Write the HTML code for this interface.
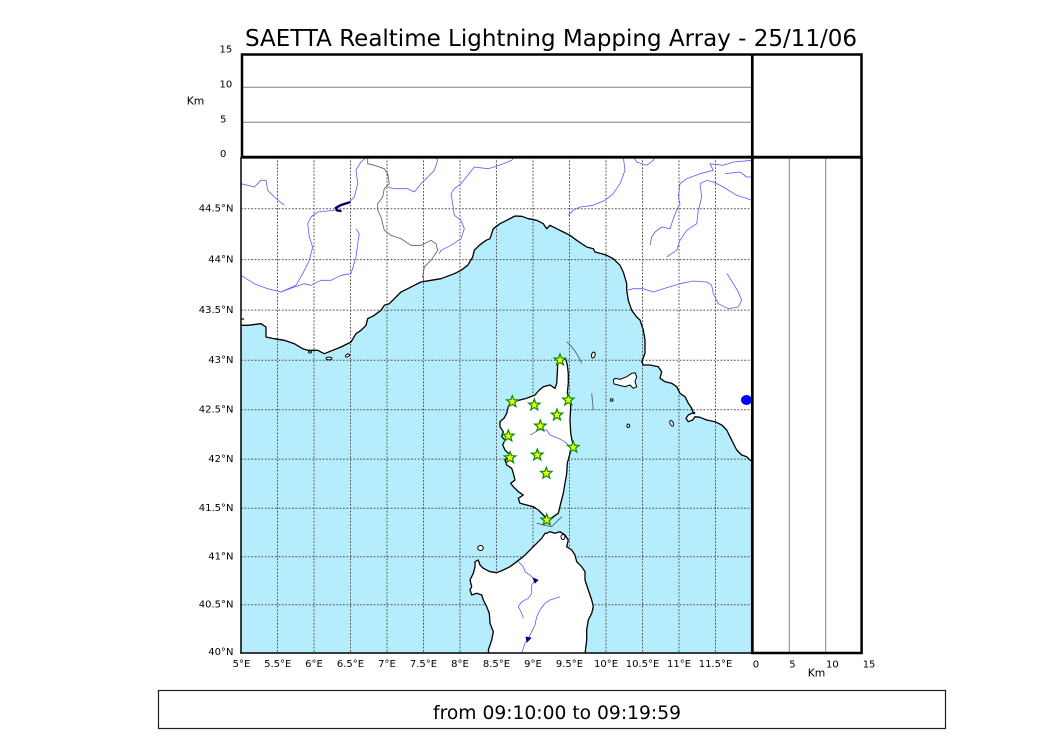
<!DOCTYPE html>
<html>
<head>
<meta charset="utf-8">
<style>
html,body{margin:0;padding:0;background:#fff;}
svg{display:block;}
text{font-family:"DejaVu Sans","Liberation Sans",sans-serif;fill:#000;}
</style>
</head>
<body>
<svg width="1050" height="750" viewBox="0 0 1050 750" xmlns="http://www.w3.org/2000/svg">
<defs>
  <clipPath id="mapclip"><rect x="241" y="157" width="511" height="496"/></clipPath>
  <path id="star" d="M0,-6 L1.47,-2.02 L5.71,-1.85 L2.38,0.77 L3.53,4.85 L0,2.5 L-3.53,4.85 L-2.38,0.77 L-5.71,-1.85 L-1.47,-2.02 Z"/>
</defs>

<!-- Title -->
<text x="245" y="46" font-size="23" textLength="612" lengthAdjust="spacingAndGlyphs">SAETTA Realtime Lightning Mapping Array - 25/11/06</text>

<!-- MAP -->
<g clip-path="url(#mapclip)">
  <rect x="241" y="157" width="511" height="496" fill="#fff"/>
  <!-- sea -->
  <path fill="#b5edfc" stroke="none" d="M241,325.3 L247.7,325.3 L261,323.7 L266,327 L266,337 L274.3,338.7 L284.3,340.3 L294.3,343.7 L302.7,348.7 L307.7,350.3 L317.7,350.3 L324.3,353.7 L332.7,350.3 L341,347 L351,342 L356,333.7 L361,330.3 L366,325.3 L367.7,318.7 L374.3,315.3 L381,310.3 L384.3,305.3 L389.3,303.7 L396,297 L401,292 L407.7,288.7 L414.3,285.3 L421,282 L431,280.3 L441,278.7 L454.3,273.7 L461,270.3 L467.7,265.3 L472.7,257 L474.3,250.3 L479.3,245.3 L486,240.3 L490,238.7 L493.3,228.7 L500,223.7 L506.7,220.3 L515,216 L521.7,216.3 L528.3,218.7 L536.7,220.3 L543.3,223.7 L546.7,228.7 L550,225.3 L556.7,228.7 L563.3,232 L570,235.3 L576.7,240.3 L586.7,247 L593.3,248.7 L595,252 L601.7,253.7 L606.7,255.3 L613.3,258.7 L620,265.3 L623.3,272 L626.7,283.7 L626.7,290.3 L628.3,300.3 L631.7,310.3 L636.7,317 L640,320 L643.3,330 L645,340 L645,353.3 L641.7,361.7 L643.3,365 L650,365 L658.3,366.7 L661.7,371.7 L660,378.3 L665,381.7 L671.7,383.3 L676.7,386.7 L680,393.3 L685,396.7 L688.3,403.3 L691.7,408.3 L693.3,412.7 L688.3,415 L686,418.3 L688.3,421.7 L692.7,420 L695,416.7 L700,417.3 L706.7,420 L715,421.7 L721.7,425 L726.7,430 L730,436.7 L733.3,443.3 L736.7,450 L741.7,455 L746.7,456.7 L750,460 L753,462 L753,654 L240,654 Z"/>

  <!-- grid -->
  <g stroke="#555" stroke-width="1" stroke-dasharray="1.8,1.6" fill="none">
    <line x1="277.5" y1="157" x2="277.5" y2="653"/>
    <line x1="314" y1="157" x2="314" y2="653"/>
    <line x1="350.5" y1="157" x2="350.5" y2="653"/>
    <line x1="387" y1="157" x2="387" y2="653"/>
    <line x1="423.5" y1="157" x2="423.5" y2="653"/>
    <line x1="460" y1="157" x2="460" y2="653"/>
    <line x1="496.5" y1="157" x2="496.5" y2="653"/>
    <line x1="533" y1="157" x2="533" y2="653"/>
    <line x1="569.5" y1="157" x2="569.5" y2="653"/>
    <line x1="606" y1="157" x2="606" y2="653"/>
    <line x1="642.5" y1="157" x2="642.5" y2="653"/>
    <line x1="679" y1="157" x2="679" y2="653"/>
    <line x1="715.5" y1="157" x2="715.5" y2="653"/>
    <line x1="241" y1="604.8" x2="752" y2="604.8"/>
    <line x1="241" y1="556.7" x2="752" y2="556.7"/>
    <line x1="241" y1="508.2" x2="752" y2="508.2"/>
    <line x1="241" y1="459.1" x2="752" y2="459.1"/>
    <line x1="241" y1="409.8" x2="752" y2="409.8"/>
    <line x1="241" y1="360.3" x2="752" y2="360.3"/>
    <line x1="241" y1="310.1" x2="752" y2="310.1"/>
    <line x1="241" y1="259.6" x2="752" y2="259.6"/>
    <line x1="241" y1="208.8" x2="752" y2="208.8"/>
  </g>

  <!-- mainland coastline -->
  <path fill="none" stroke="#000" stroke-width="1.3" stroke-linejoin="round" d="M241,325.3 L247.7,325.3 L261,323.7 L266,327 L266,337 L274.3,338.7 L284.3,340.3 L294.3,343.7 L302.7,348.7 L307.7,350.3 L317.7,350.3 L324.3,353.7 L332.7,350.3 L341,347 L351,342 L356,333.7 L361,330.3 L366,325.3 L367.7,318.7 L374.3,315.3 L381,310.3 L384.3,305.3 L389.3,303.7 L396,297 L401,292 L407.7,288.7 L414.3,285.3 L421,282 L431,280.3 L441,278.7 L454.3,273.7 L461,270.3 L467.7,265.3 L472.7,257 L474.3,250.3 L479.3,245.3 L486,240.3 L490,238.7 L493.3,228.7 L500,223.7 L506.7,220.3 L515,216 L521.7,216.3 L528.3,218.7 L536.7,220.3 L543.3,223.7 L546.7,228.7 L550,225.3 L556.7,228.7 L563.3,232 L570,235.3 L576.7,240.3 L586.7,247 L593.3,248.7 L595,252 L601.7,253.7 L606.7,255.3 L613.3,258.7 L620,265.3 L623.3,272 L626.7,283.7 L626.7,290.3 L628.3,300.3 L631.7,310.3 L636.7,317 L640,320 L643.3,330 L645,340 L645,353.3 L641.7,361.7 L643.3,365 L650,365 L658.3,366.7 L661.7,371.7 L660,378.3 L665,381.7 L671.7,383.3 L676.7,386.7 L680,393.3 L685,396.7 L688.3,403.3 L691.7,408.3 L693.3,412.7 L688.3,415 L686,418.3 L688.3,421.7 L692.7,420 L695,416.7 L700,417.3 L706.7,420 L715,421.7 L721.7,425 L726.7,430 L730,436.7 L733.3,443.3 L736.7,450 L741.7,455 L746.7,456.7 L750,460 L753,462"/>
  <line x1="241" y1="319" x2="244" y2="319" stroke="#000" stroke-width="1.2"/>

  <!-- small islands near Provence -->
  <g fill="#fff" stroke="#000" stroke-width="1">
    <ellipse cx="329" cy="358.5" rx="3" ry="1.4"/>
    <ellipse cx="347.5" cy="355.5" rx="2.2" ry="1.3" transform="rotate(-30 347.5 355.5)"/>
    <ellipse cx="310" cy="352" rx="1.5" ry="1"/>
  </g>

  <!-- border France-Italy -->
  <path fill="none" stroke="#555" stroke-width="0.8" d="M367.7,157 L367.7,163.7 L374.3,165.3 L384.3,168.7 L387.7,173.7 L389.3,183.7 L384.3,188.7 L382.7,197 L377.7,203.7 L377.7,210.3 L381,217 L384.3,230.3 L391,235.3 L401,238.7 L411,245.3 L421,245.3 L431,240.3 L436,243.7 L437.7,250.3 L431,260.3 L424.3,267 L422.7,277 L424.3,282"/>

  <!-- rivers -->
  <g fill="none" stroke="#5a5aff" stroke-width="0.8" stroke-linejoin="round">
    <path d="M241,183.7 L254.3,187 L261,180.3 L266,180.3 L267.7,190.3 L274.3,197 L284.3,205.3"/>
    <path d="M367,157 L361,162 L356,170 L357.7,183.7 L354.3,197 L347.7,203.7"/>
    <path d="M337,210 L317.7,212 L311,217 L307.7,223.7 L309.3,237 L312.7,247 L309.3,260.3 L302.7,273.7 L296,285.3 L281,292"/>
    <path d="M241,275.3 L254.3,283.7 L267.7,288.7 L281,292 L294.3,287 L304.3,283.7 L311,285.3 L321,280.3 L331,280.3 L341,275.3 L351,273.7 L356,257 L357.7,243.7 L359.3,233.7 L356,228.7"/>
    <path d="M387.7,187 L394.3,188.7 L407.7,188.7 L414.3,192 L421,183.7 L427.7,177 L434.3,170.3 L437.7,160.3 L436,157"/>
    <path d="M439.3,253.7 L441,250.3 L451,245.3 L461,238.7 L464.3,228.7 L461,220.3 L454.3,215.3 L452.7,203.7 L451,193.7 L454.3,188.7 L461,183.7 L467.7,175.3 L474.3,167 L487.7,168.7 L494.3,167 L503.3,163.7 L511.7,160.3 L514,157"/>
    <path d="M623.3,157 L625,170.3 L620,183.7 L613.3,193.7 L605,200.3 L593.3,205.3 L580,207 L573.3,210.3 L568.3,215.3"/>
    <path d="M633.3,157 L636.7,162 L646.7,165.3 L653.3,160.3 L655,157"/>
    <path d="M752,160.3 L733.3,162 L723.3,165.3 L710,163.7 L713.3,170.3 L700,173.7 L686.7,178.7 L680,183.7 L678.3,197 L680,203.7 L676.7,210.3 L673.3,218.7 L670,228.7 L661.7,227 L655,232 L651.7,237 L650,245.3"/>
    <path d="M706.7,180.3 L713.3,182 L723.3,187 L736.7,195.3 L752,200.3"/>
    <path d="M706.7,180.3 L700,183.7 L701.7,197 L698.3,210.3 L696.7,223.7 L686.7,230.3 L680,240.3 L676.7,250.3 L666.7,257"/>
    <path d="M725,173.7 L740,172 L746.7,177 L752,177"/>
    <path d="M626.7,290.3 L633.3,288.7 L643.3,288.7 L653.3,292 L663.3,288.7 L680,283.7 L693.3,281 L706.7,282 L711.7,285.3 L713.3,293.7 L718.3,303.7 L728.3,308.7 L738.3,307 L741.7,300.3 L738.3,292 L733.3,283.7 L728.3,275.3 L726.7,273.7"/>
  </g>
  <!-- Lake Geneva -->
  <path d="M349,202.5 L341,205 L336,207.8 L337,210.3 L340.5,211" fill="none" stroke="#000060" stroke-width="2.4" stroke-linecap="round"/>

  <!-- Corsica -->
  <path fill="#fff" stroke="#000" stroke-width="1.3" stroke-linejoin="round" d="M558.3,360 L561.7,358.3 L566,360 L567.3,365 L568.3,373.3 L568.3,383.3 L567.3,393.3 L570,400 L570.7,406.7 L570,420 L570.7,433.3 L573.3,446.7 L570,453.3 L567.3,463.3 L566.7,473.3 L565,483.3 L563.3,493.3 L560.7,503.3 L558.3,513.3 L553.3,516.7 L548.3,520 L543.3,515 L538.3,510 L533.3,506.7 L526.7,505 L520,503.3 L518.3,498.3 L523.3,495 L518.3,491.7 L513.3,486.7 L510.7,483.3 L515,480 L513.3,473.3 L511.7,468.3 L506.7,465 L505,460 L510,455 L505,450 L502.7,445 L505,440 L501.7,436.7 L503.3,431.7 L500,426.7 L500,421.7 L504,418.3 L506.7,413.3 L508.3,406.7 L510,403.3 L513.3,401.7 L520,400 L526.7,398.3 L535,395 L539.3,390 L543.3,386.7 L550,385 L555,388.3 L556.7,383.3 L557.3,373.3 L557.7,365 Z"/>
  <path d="M530,435 L533.3,433.3 L538.3,430 L546.7,430 L550,435 L558.3,438.3 L565,441.7 L570,446.7" fill="none" stroke="#5a5aff" stroke-width="0.8"/>

  <!-- Sardinia -->
  <path fill="#fff" stroke="#000" stroke-width="1.3" stroke-linejoin="round" d="M489,654 L488.3,650 L491.7,640 L493.3,631.7 L490,623.3 L489.3,613.3 L486.7,606.7 L483.3,600 L481.7,595 L476.7,593.3 L471.7,595 L470,590 L471.7,586.7 L470,580 L473.3,573.3 L475,566.7 L475,561.7 L478.3,560 L480,565 L483.3,568.3 L490,571.7 L496.7,572.7 L503.3,570 L510,566.7 L516.7,561.7 L523.3,556.7 L530,550 L536.7,543.3 L541.7,538.3 L545,533.3 L546.7,533.3 L550,531.7 L555,533.3 L560,531.7 L565,535 L568.3,540 L566.7,546.7 L571.7,550 L575,555 L576.7,561.7 L581.7,566.7 L585,571.7 L585,580 L588.3,590 L591.7,600 L593.3,606.7 L591.7,613.3 L588.3,620 L586.7,630 L586.7,640 L585,654 Z"/>
  <g fill="none" stroke="#5a5aff" stroke-width="0.8">
    <path d="M518.3,561.7 L523.3,566.7 L525,571.7 L530,575 L535,580 L531.7,585 L531.7,593.3 L528.3,598.3 L521.7,601.7 L518.3,606.7 L521.7,613.3 L523.3,618.3"/>
    <path d="M560,596.7 L550,600 L545,603.3 L540,610 L536.7,616.7 L535,625 L531.7,631.7 L528.3,638.3 L525,643.3 L521.7,653"/>
  </g>
  <path d="M533,578 L538,580 L535,583 Z" fill="#000080" stroke="#000080" stroke-width="0.8"/>
  <path d="M526,637 L531,638 L527,642 Z" fill="#000080" stroke="#000080" stroke-width="0.8"/>

  <!-- small islands -->
  <g fill="#fff" stroke="#000" stroke-width="1">
    <ellipse cx="480.5" cy="548" rx="2.8" ry="2.5"/>
    <path d="M613.3,380 L615,378.3 L620,379.3 L626.7,376.7 L631.7,373.3 L635,372.7 L636.7,376.7 L635,381.7 L636.7,386.7 L633.3,388.3 L630,385 L625,386.7 L618.3,385 L614,384 Z"/>
    <ellipse cx="611.7" cy="400" rx="1.4" ry="1.2"/>
    <ellipse cx="628.3" cy="425.8" rx="1.4" ry="1.8"/>
    <ellipse cx="671.7" cy="423.3" rx="1.6" ry="3" transform="rotate(-25 671.7 423.3)"/>
    <ellipse cx="593.3" cy="355" rx="1.8" ry="3" transform="rotate(15 593.3 355)"/>
    <ellipse cx="563" cy="537" rx="2" ry="2.5"/>
  </g>
  <!-- maritime boundaries -->
  <g fill="none" stroke="#555" stroke-width="0.8">
    <path d="M566.7,341.7 Q576,350 581.7,363.3"/>
    <path d="M591.7,393.3 L593.3,410"/>
    <path d="M536.7,523.3 L551.7,526.7 L561.7,516.7"/>
  </g>
  <!-- lakes -->
  <ellipse cx="746.5" cy="400" rx="5.5" ry="5" fill="#0000ff"/>
  <circle cx="694" cy="413" r="1.3" fill="#000080"/>

  <!-- stars -->
  <g fill="#ffff00" stroke="#009000" stroke-width="1.2" stroke-linejoin="miter">
    <use href="#star" x="560" y="360"/>
    <use href="#star" x="512.3" y="401.7"/>
    <use href="#star" x="534.3" y="405"/>
    <use href="#star" x="568.3" y="400"/>
    <use href="#star" x="557" y="415"/>
    <use href="#star" x="540.3" y="426"/>
    <use href="#star" x="508.3" y="436"/>
    <use href="#star" x="573.3" y="447.3"/>
    <use href="#star" x="537.3" y="455"/>
    <use href="#star" x="510" y="457.7"/>
    <use href="#star" x="546.3" y="473.3"/>
    <use href="#star" x="546.7" y="520"/>
  </g>
</g>

<!-- map frame left/bottom -->
<line x1="241" y1="157" x2="241" y2="653.7" stroke="#000" stroke-width="1.5"/>
<line x1="240.3" y1="653" x2="752" y2="653" stroke="#000" stroke-width="1.5"/>

<!-- top panel grid -->
<line x1="241" y1="87.3" x2="752" y2="87.3" stroke="#808080" stroke-width="1"/>
<line x1="241" y1="122.3" x2="752" y2="122.3" stroke="#808080" stroke-width="1"/>
<!-- right panel grid -->
<line x1="789.3" y1="157" x2="789.3" y2="653" stroke="#808080" stroke-width="1"/>
<line x1="825.7" y1="157" x2="825.7" y2="653" stroke="#808080" stroke-width="1"/>

<!-- frames -->
<rect x="242" y="54.5" width="619.5" height="102.5" fill="none" stroke="#000" stroke-width="2.5"/>
<line x1="752.3" y1="54" x2="752.3" y2="654" stroke="#000" stroke-width="2.7"/>
<rect x="752.3" y="157.3" width="109.3" height="495.7" fill="none" stroke="#000" stroke-width="2.5"/>
<line x1="241" y1="157.3" x2="862" y2="157.3" stroke="#000" stroke-width="2.7"/>

<!-- top panel labels -->
<g font-size="10">
  <text x="219.5" y="52.3">15</text>
  <text x="219.5" y="87.3">10</text>
  <text x="220" y="122.3">5</text>
  <text x="220" y="157">0</text>
</g>
<text x="186.7" y="104.5" font-size="10.8">Km</text>

<!-- lat labels -->
<g font-size="10" text-anchor="end">
  <text x="233.5" y="211.6">44.5°N</text>
  <text x="233.5" y="262.4">44°N</text>
  <text x="233.5" y="312.9">43.5°N</text>
  <text x="233.5" y="363.1">43°N</text>
  <text x="233.5" y="412.7">42.5°N</text>
  <text x="233.5" y="462.1">42°N</text>
  <text x="233.5" y="511">41.5°N</text>
  <text x="233.5" y="559.5">41°N</text>
  <text x="233.5" y="607.6">40.5°N</text>
  <text x="233.5" y="655">40°N</text>
</g>

<!-- lon labels -->
<g font-size="10" text-anchor="middle">
  <text x="241.5" y="667">5°E</text>
  <text x="277.7" y="667">5.5°E</text>
  <text x="314" y="667">6°E</text>
  <text x="350.5" y="667">6.5°E</text>
  <text x="387" y="667">7°E</text>
  <text x="423.5" y="667">7.5°E</text>
  <text x="460" y="667">8°E</text>
  <text x="496.5" y="667">8.5°E</text>
  <text x="533" y="667">9°E</text>
  <text x="569.5" y="667">9.5°E</text>
  <text x="606" y="667">10°E</text>
  <text x="642.5" y="667">10.5°E</text>
  <text x="679" y="667">11°E</text>
  <text x="715.5" y="667">11.5°E</text>
</g>

<!-- right panel labels -->
<g font-size="10">
  <text x="752.7" y="667.3">0</text>
  <text x="789.3" y="667.3">5</text>
  <text x="826" y="667.3">10</text>
  <text x="862.7" y="667.3">15</text>
</g>
<text x="807.7" y="676.5" font-size="10.8">Km</text>

<!-- bottom box -->
<rect x="158.5" y="690.5" width="787" height="38" fill="none" stroke="#222" stroke-width="1.2"/>
<text x="433" y="719" font-size="19" textLength="248" lengthAdjust="spacingAndGlyphs">from 09:10:00 to 09:19:59</text>
</svg>
</body>
</html>
